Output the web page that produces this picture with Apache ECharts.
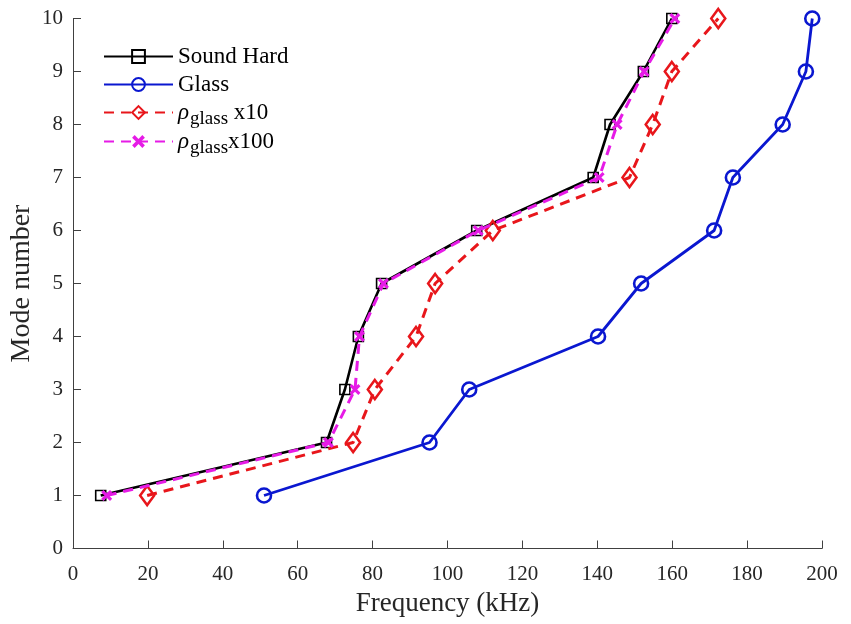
<!DOCTYPE html>
<html><head><meta charset="utf-8">
<script src="https://cdn.jsdelivr.net/npm/echarts@6/dist/echarts.min.js"></script>
<style>html,body{margin:0;padding:0;background:#fff}#c{width:851px;height:624px}</style>
</head><body><div id="c"></div>
<script>
const modes = [1,2,3,4,5,6,7,8,9,10];
const soundHard = [7.4,67.7,72.6,76.2,82.4,107.8,138.9,143.4,152.3,159.9];
const glass = [51.0,95.2,105.8,140.2,151.7,171.2,176.2,189.5,195.7,197.4];
const rho10 = [19.8,74.8,80.6,91.6,96.7,112.1,148.6,154.8,159.9,172.3];
const rho100 = [9.0,68.2,75.3,76.5,82.9,108.2,140.5,145.3,152.5,160.7];
const seriesNames = ['Sound Hard','Glass','rho10','rho100'];
const legendLabels = ['Sound Hard','Glass','{r|ρ}{s|glass}{n| x10}','{r|ρ}{s|glass}{n|x100}'];

const pair = arr => arr.map((f,i)=>[f, modes[i]]);
const xShape = 'path://M0,2 L2,0 L5,3 L8,0 L10,2 L7,5 L10,8 L8,10 L5,7 L2,10 L0,8 L3,5 Z';
const font = 'Liberation Serif';
const legendTops = [40, 68, 96, 125];

const chart = echarts.init(document.getElementById('c'));
const legends = seriesNames.map((n,i)=>({
  orient:'vertical',left:98,top:legendTops[i],itemWidth:69,itemHeight:16,
  data:[n], formatter:()=>legendLabels[i],
  textStyle:{fontFamily:font,fontSize:23,color:'#000',
    rich:{r:{fontFamily:font,fontSize:23,fontStyle:'italic'},
          s:{fontFamily:font,fontSize:19,padding:[13,0,0,1]},
          n:{fontFamily:font,fontSize:23}}}
}));
const axisCommon = {
  axisLine:{show:true,lineStyle:{color:'#404040',width:1}},
  axisTick:{show:true,inside:true,length:8,lineStyle:{color:'#404040'}},
  splitLine:{show:false},
  nameMoveOverlap:false
};
chart.setOption({
  animation:false,
  grid:{left:73,right:29,top:18.5,bottom:75.5,containLabel:false,outerBoundsMode:'none'},
  xAxis:Object.assign({type:'value',min:0,max:200,interval:20,
    name:'Frequency (kHz)',nameLocation:'middle',nameGap:42,
    nameTextStyle:{fontFamily:font,fontSize:27,color:'#262626'},
    axisLabel:{fontFamily:font,fontSize:21,color:'#262626',margin:15}},axisCommon),
  yAxis:Object.assign({type:'value',min:0,max:10,interval:1,
    name:'Mode number',nameLocation:'middle',nameGap:37,
    nameTextStyle:{fontFamily:font,fontSize:28,color:'#262626'},
    axisLabel:{fontFamily:font,fontSize:21,color:'#262626',margin:10}},axisCommon),
  legend:legends,
  series:[
    {name:'Sound Hard',type:'line',data:pair(soundHard),symbol:'rect',symbolSize:10,
     lineStyle:{color:'#000',width:2.6},itemStyle:{color:'rgba(0,0,0,0)',borderColor:'#000',borderWidth:1.6},z:2},
    {name:'Glass',type:'line',data:pair(glass),symbol:'circle',symbolSize:14,
     lineStyle:{color:'#0a17d0',width:2.8},itemStyle:{color:'rgba(0,0,0,0)',borderColor:'#0a17d0',borderWidth:2.6},z:2},
    {name:'rho10',type:'line',data:pair(rho10),symbol:'diamond',symbolSize:[14,19],
     lineStyle:{color:'#e8161b',width:3,type:[10,7]},itemStyle:{color:'rgba(0,0,0,0)',borderColor:'#e8161b',borderWidth:2.6},z:3},
    {name:'rho100',type:'line',data:pair(rho100),symbol:xShape,symbolSize:11,
     lineStyle:{color:'#e61be6',width:3,type:[10,7]},itemStyle:{color:'#e61be6'},z:4}
  ]
});
</script></body></html>
